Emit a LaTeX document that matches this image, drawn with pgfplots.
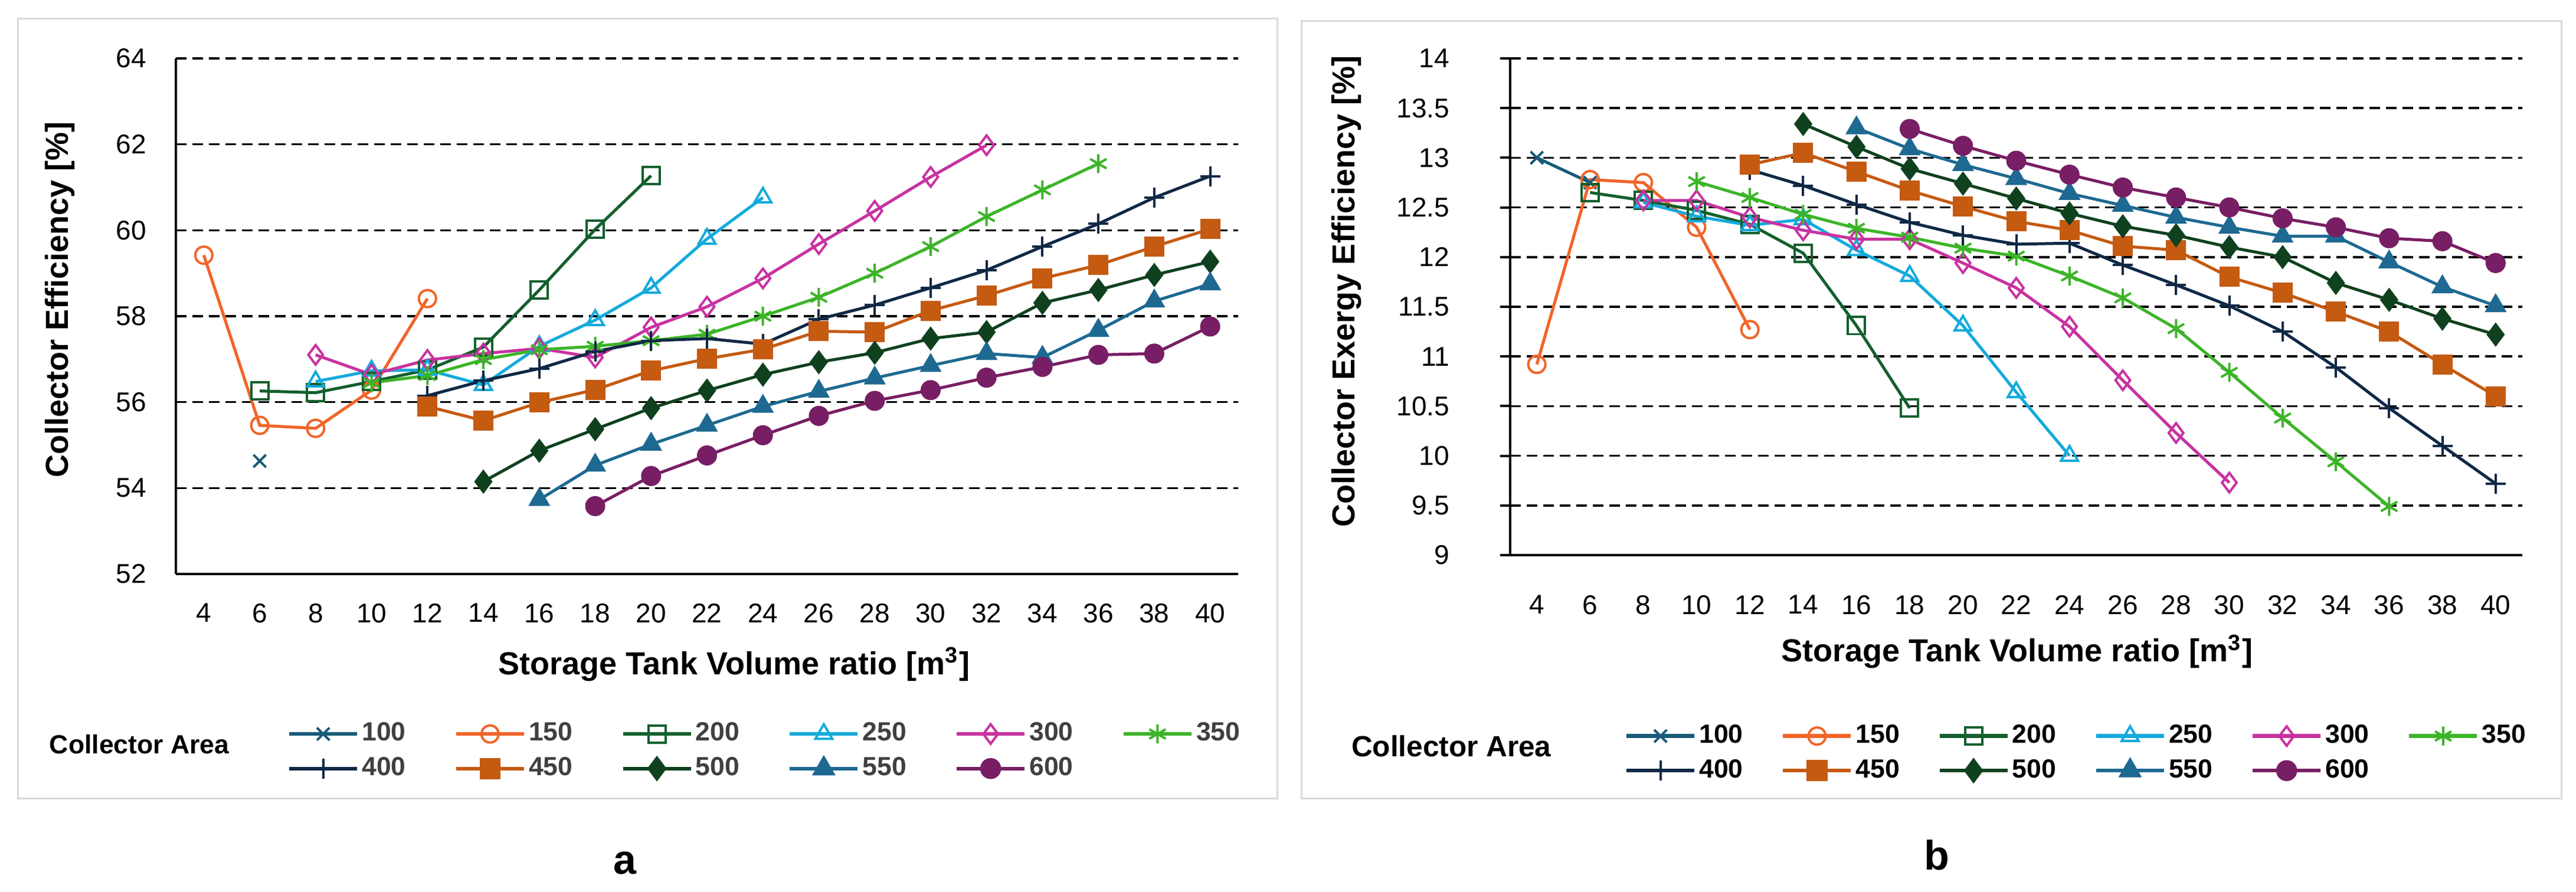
\documentclass[border=0pt]{standalone}
\usepackage{fontspec}
\setmainfont{Liberation Sans}
\usepackage{pgfplots}
\pgfplotsset{compat=1.18}

\definecolor{c100}{RGB}{25,90,120}
\definecolor{c150}{RGB}{242,100,40}
\definecolor{c200}{RGB}{20,95,45}
\definecolor{c250}{RGB}{20,170,220}
\definecolor{c300}{RGB}{200,50,160}
\definecolor{c350}{RGB}{60,180,40}
\definecolor{c400}{RGB}{15,40,70}
\definecolor{c450}{RGB}{197,90,17}
\definecolor{c500}{RGB}{15,65,30}
\definecolor{c550}{RGB}{30,105,145}
\definecolor{c600}{RGB}{120,30,100}
\definecolor{framegray}{RGB}{217,217,217}
\definecolor{legtext}{RGB}{64,64,64}

\pgfplotsset{
  legend image code/.code={\draw[mark repeat=2,mark phase=2,#1,line width=1.3pt] plot coordinates {(0pt,0pt) (11.5pt,0pt) (23pt,0pt)};},
  myaxis/.style={
    scale only axis,
    axis lines*=left,
    axis line style={line width=0.8pt, black},
    xmin=3, xmax=41,
    xtick={4,6,...,40},
    ymajorgrids,
    major grid style={black, line width=0.7pt, dash pattern=on 3.6pt off 2pt},
    tick label style={font=\fontsize{9.2}{11}\selectfont},
    /pgf/number format/assume math mode=true,
    xticklabel style={anchor=north, inner sep=0pt, yshift=-9.8pt},
    yticklabel style={anchor=east, inner sep=0pt, xshift=-9.8pt},
    legend columns=6,
    legend cell align=left,
    legend style={draw=none, fill=none, inner sep=0pt, anchor=west,
      font=\bfseries\fontsize{8.9}{10}\selectfont,
      nodes={inner xsep=1pt, inner ysep=0.5pt},
      row sep=3pt},
    every axis plot/.append style={line width=1pt, mark size=2.9pt, mark options={solid, line width=0.8pt}},
  },
  s100/.style={c100, mark=x, mark size=3pt},
  s150/.style={c150, mark=o},
  s200/.style={c200, mark=square},
  s250/.style={c250, mark=triangle, mark size=3.3pt},
  s300/.style={c300, mark=diamond, mark size=3.3pt},
  s350/.style={c350, mark=asterisk, mark size=3.2pt},
  s400/.style={c400, mark=+, mark size=3.4pt},
  s450/.style={c450, mark=square*, mark options={fill=c450}},
  s500/.style={c500, mark=diamond*, mark size=3.3pt, mark options={fill=c500}},
  s550/.style={c550, mark=triangle*, mark size=3.3pt, mark options={fill=c550}},
  s600/.style={c600, mark=*, mark options={fill=c600}},
}

\begin{document}
\begin{tikzpicture}
\fill[white] (0,0) rectangle (873pt,302.4pt);
\path[use as bounding box] (0,0) rectangle (873pt,302.4pt);
\draw[framegray, line width=0.6pt] (6pt,31.6pt) rectangle (432.8pt,296pt);
\draw[framegray, line width=0.6pt] (441pt,31.6pt) rectangle (868pt,295.2pt);

% ---------------- panel a ----------------
\begin{axis}[myaxis,
  at={(59.6pt,107.8pt)}, anchor=south west,
  width=360pt, height=174.8pt,
  ymin=52, ymax=64, ytick={52,54,...,64},
  tick style={draw=none},
  legend style={at={(0.1044,-0.3438)}, text=legtext,
    /tikz/every even column/.append style={column sep=15.4pt}},
]
\addplot[s100] coordinates {(6,54.63)};
\addplot[s150] coordinates {(4,59.42)(6,55.46)(8,55.39)(10,56.28)(12,58.41)};
\addplot[s200] coordinates {(6,56.26)(8,56.22)(10,56.48)(12,56.75)(14,57.28)(16,58.61)(18,60.02)(20,61.27)};
\addplot[s250] coordinates {(8,56.48)(10,56.73)(12,56.75)(14,56.4)(16,57.3)(18,57.91)(20,58.66)(22,59.8)(24,60.76)};
\addplot[s300] coordinates {(8,57.1)(10,56.64)(12,56.98)(14,57.13)(16,57.25)(18,57.04)(20,57.74)(22,58.22)(24,58.88)(26,59.68)(28,60.45)(30,61.24)(32,61.98)};
\addplot[s350] coordinates {(10,56.45)(12,56.62)(14,56.99)(16,57.22)(18,57.3)(20,57.43)(22,57.58)(24,58.0)(26,58.44)(28,59.0)(30,59.62)(32,60.32)(34,60.94)(36,61.55)};
\addplot[s400] coordinates {(12,56.15)(14,56.5)(16,56.78)(18,57.18)(20,57.43)(22,57.48)(24,57.35)(26,57.93)(28,58.26)(30,58.66)(32,59.07)(34,59.62)(36,60.15)(38,60.76)(40,61.26)};
\addplot[s450] coordinates {(12,55.9)(14,55.57)(16,55.99)(18,56.29)(20,56.73)(22,57.01)(24,57.23)(26,57.65)(28,57.63)(30,58.13)(32,58.48)(34,58.88)(36,59.19)(38,59.62)(40,60.03)};
\addplot[s500] coordinates {(14,54.15)(16,54.87)(18,55.37)(20,55.86)(22,56.27)(24,56.64)(26,56.93)(28,57.15)(30,57.48)(32,57.63)(34,58.31)(36,58.61)(38,58.96)(40,59.27)};
\addplot[s550] coordinates {(16,53.73)(18,54.53)(20,55.02)(22,55.46)(24,55.9)(26,56.25)(28,56.56)(30,56.85)(32,57.13)(34,57.04)(36,57.67)(38,58.35)(40,58.75)};
\addplot[s600] coordinates {(18,53.58)(20,54.28)(22,54.76)(24,55.23)(26,55.68)(28,56.03)(30,56.28)(32,56.57)(34,56.82)(36,57.1)(38,57.13)(40,57.76)};
\legend{100,150,200,250,300,350,400,450,500,550,600}
\end{axis}

% ---------------- panel b ----------------
\begin{axis}[myaxis,
  at={(511.8pt,114.2pt)}, anchor=south west,
  width=343pt, height=168.4pt,
  ymin=9, ymax=14, ytick={9,9.5,10,10.5,11,11.5,12,12.5,13,13.5,14},
  xtick style={draw=none},
  ytick style={line width=0.8pt, black},
  tick align=outside, major tick length=3.4pt,
  yticklabel style={xshift=-7.2pt},
  xticklabel style={yshift=-0.2pt},
  legend style={at={(0.1125,-0.399)}, text=black,
    /tikz/every even column/.append style={column sep=11.9pt}},
]
\addplot[s100] coordinates {(4,13.0)(6,12.75)};
\addplot[s150] coordinates {(4,10.92)(6,12.78)(8,12.75)(10,12.3)(12,11.27)};
\addplot[s200] coordinates {(6,12.65)(8,12.57)(10,12.47)(12,12.33)(14,12.04)(16,11.31)(18,10.48)};
\addplot[s250] coordinates {(8,12.55)(10,12.41)(12,12.32)(14,12.38)(16,12.07)(18,11.81)(20,11.31)(22,10.64)(24,10.0)};
\addplot[s300] coordinates {(8,12.57)(10,12.57)(12,12.4)(14,12.27)(16,12.18)(18,12.18)(20,11.94)(22,11.69)(24,11.3)(26,10.76)(28,10.23)(30,9.73)};
\addplot[s350] coordinates {(10,12.76)(12,12.6)(14,12.43)(16,12.29)(18,12.2)(20,12.09)(22,12.01)(24,11.81)(26,11.59)(28,11.28)(30,10.84)(32,10.38)(34,9.94)(36,9.49)};
\addplot[s400] coordinates {(12,12.88)(14,12.72)(16,12.53)(18,12.35)(20,12.22)(22,12.13)(24,12.14)(26,11.92)(28,11.72)(30,11.51)(32,11.25)(34,10.89)(36,10.48)(38,10.1)(40,9.72)};
\addplot[s450] coordinates {(12,12.93)(14,13.05)(16,12.86)(18,12.67)(20,12.51)(22,12.36)(24,12.27)(26,12.11)(28,12.07)(30,11.8)(32,11.64)(34,11.45)(36,11.25)(38,10.92)(40,10.6)};
\addplot[s500] coordinates {(14,13.34)(16,13.11)(18,12.89)(20,12.74)(22,12.59)(24,12.44)(26,12.31)(28,12.22)(30,12.1)(32,12.0)(34,11.74)(36,11.57)(38,11.38)(40,11.22)};
\addplot[s550] coordinates {(16,13.3)(18,13.09)(20,12.93)(22,12.79)(24,12.64)(26,12.52)(28,12.4)(30,12.3)(32,12.21)(34,12.21)(36,11.95)(38,11.7)(40,11.51)};
\addplot[s600] coordinates {(18,13.29)(20,13.12)(22,12.97)(24,12.83)(26,12.7)(28,12.6)(30,12.5)(32,12.39)(34,12.3)(36,12.19)(38,12.16)(40,11.94)};
\legend{100,150,200,250,300,350,400,450,500,550,600}
\end{axis}

% ---------------- titles and labels ----------------
\node[rotate=90, font=\bfseries\fontsize{10.8}{13}\selectfont] at (20.4pt,200.8pt) {Collector Efficiency [\%]};
\node[rotate=90, font=\bfseries\fontsize{10.8}{13}\selectfont] at (456.4pt,203.6pt) {Collector Exergy Efficiency [\%]};
\node[anchor=base, inner sep=0pt, font=\bfseries\fontsize{10.8}{13}\selectfont] at (248.8pt,73.7pt) {Storage Tank Volume ratio [m\textsuperscript{3}]};
\node[anchor=base, inner sep=0pt, font=\bfseries\fontsize{10.8}{13}\selectfont] at (683.6pt,78pt) {Storage Tank Volume ratio [m\textsuperscript{3}]};
\node[anchor=base west, inner sep=0pt, font=\bfseries\fontsize{8.9}{10}\selectfont] at (16.6pt,46.8pt) {Collector Area};
\node[anchor=base west, inner sep=0pt, font=\bfseries\fontsize{9.9}{11}\selectfont] at (457.8pt,45.8pt) {Collector Area};
\node[anchor=base, inner sep=0pt, font=\bfseries\fontsize{14}{16}\selectfont] at (211.8pt,6pt) {a};
\node[anchor=base, inner sep=0pt, font=\bfseries\fontsize{14}{16}\selectfont] at (656.4pt,7.4pt) {b};
\end{tikzpicture}
\end{document}
